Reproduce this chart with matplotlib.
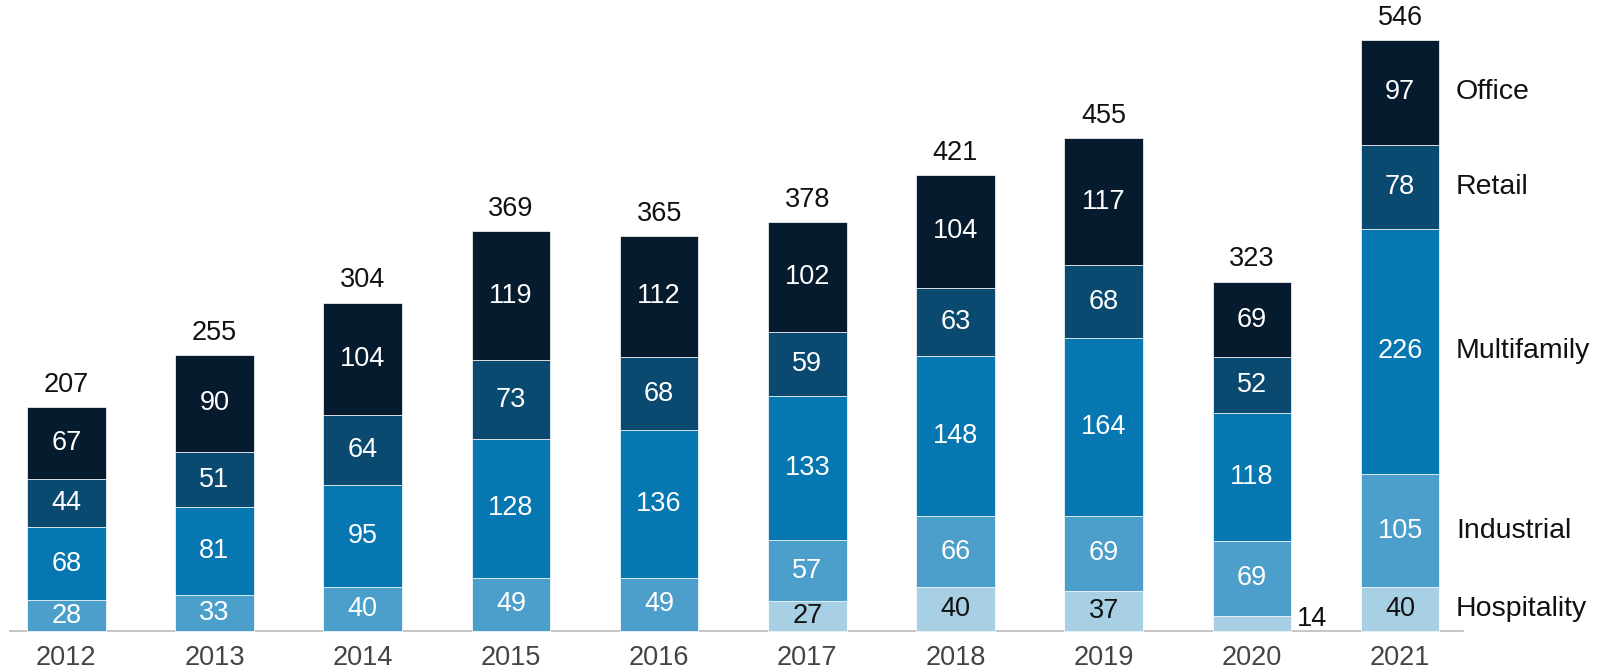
import matplotlib
matplotlib.use("Agg")
import matplotlib.pyplot as plt
import numpy as np

years = ["2012", "2013", "2014", "2015", "2016", "2017", "2018", "2019", "2020", "2021"]
hospitality = [0, 0, 0, 0, 0, 27, 40, 37, 14, 40]
industrial = [28, 33, 40, 49, 49, 57, 66, 69, 69, 105]
multifamily = [68, 81, 95, 128, 136, 133, 148, 164, 118, 226]
retail = [44, 51, 64, 73, 68, 59, 63, 68, 52, 78]
office = [67, 90, 104, 119, 112, 102, 104, 117, 69, 97]
totals = [207, 255, 304, 369, 365, 378, 421, 455, 323, 546]
series_names = ["Hospitality", "Industrial", "Multifamily", "Retail", "Office"]

colors = ["#a7d0e5", "#4c9fca", "#0677b0", "#0a4a70", "#061b2e"]
text_colors = ["#111111", "white", "white", "white", "white"]

plt.rcParams['font.family'] = ['Liberation Sans', 'DejaVu Sans']

W, H = 1600, 671
fig = plt.figure(figsize=(W / 100, H / 100), dpi=100)
ax = fig.add_axes([0, 0, 1, 1])

# pixel mapping
x0_px, dx_px = 66.3, 148.2
base_px, ppu = 630.7, 1.0824
ax.set_xlim(-x0_px / dx_px, (W - x0_px) / dx_px)
ax.set_ylim(-(H - base_px) / ppu, base_px / ppu)
ax.axis("off")

x = np.arange(len(years))
width = 78.6 / dx_px
data = [hospitality, industrial, multifamily, retail, office]
bottom = np.zeros(len(years))
fs = 19.5
for vals, c, tc, name in zip(data, colors, text_colors, series_names):
    vals = np.array(vals, dtype=float)
    ax.bar(x, vals, width, bottom=bottom, color=c, edgecolor="white", linewidth=0.5, zorder=2)
    for i, v in enumerate(vals):
        if v <= 0:
            continue
        mid = bottom[i] + v / 2
        if v < 20:
            ax.annotate(f"{int(v)}", (x[i] + width / 2, mid), xytext=(4, 3),
                        textcoords="offset points", ha="left", va="center",
                        fontsize=fs, color="#111111")
        else:
            ax.text(x[i], mid, f"{int(v)}", ha="center", va="center",
                    fontsize=fs, color=tc, zorder=3)
    # right-side series labels at last bar
    ax.annotate(name, (x[-1] + width / 2, bottom[-1] + vals[-1] / 2), xytext=(12, 0),
                textcoords="offset points", ha="left", va="center",
                fontsize=20.5, color="#111111")
    bottom += vals

for i, t in enumerate(totals):
    ax.annotate(str(t), (x[i], t), xytext=(0, 15.8), textcoords="offset points",
                ha="center", va="center", fontsize=fs, color="#111111")

for i, y in enumerate(years):
    ax.text(x[i], -(658 - base_px) / ppu, y, ha="center", va="center",
            fontsize=fs, color="#444444")

# baseline
ax.plot([(10 - x0_px) / dx_px, (1463 - x0_px) / dx_px], [0, 0], color="#bbbbbb",
        linewidth=1.2, zorder=1)

fig.savefig("out.png", dpi=100)
